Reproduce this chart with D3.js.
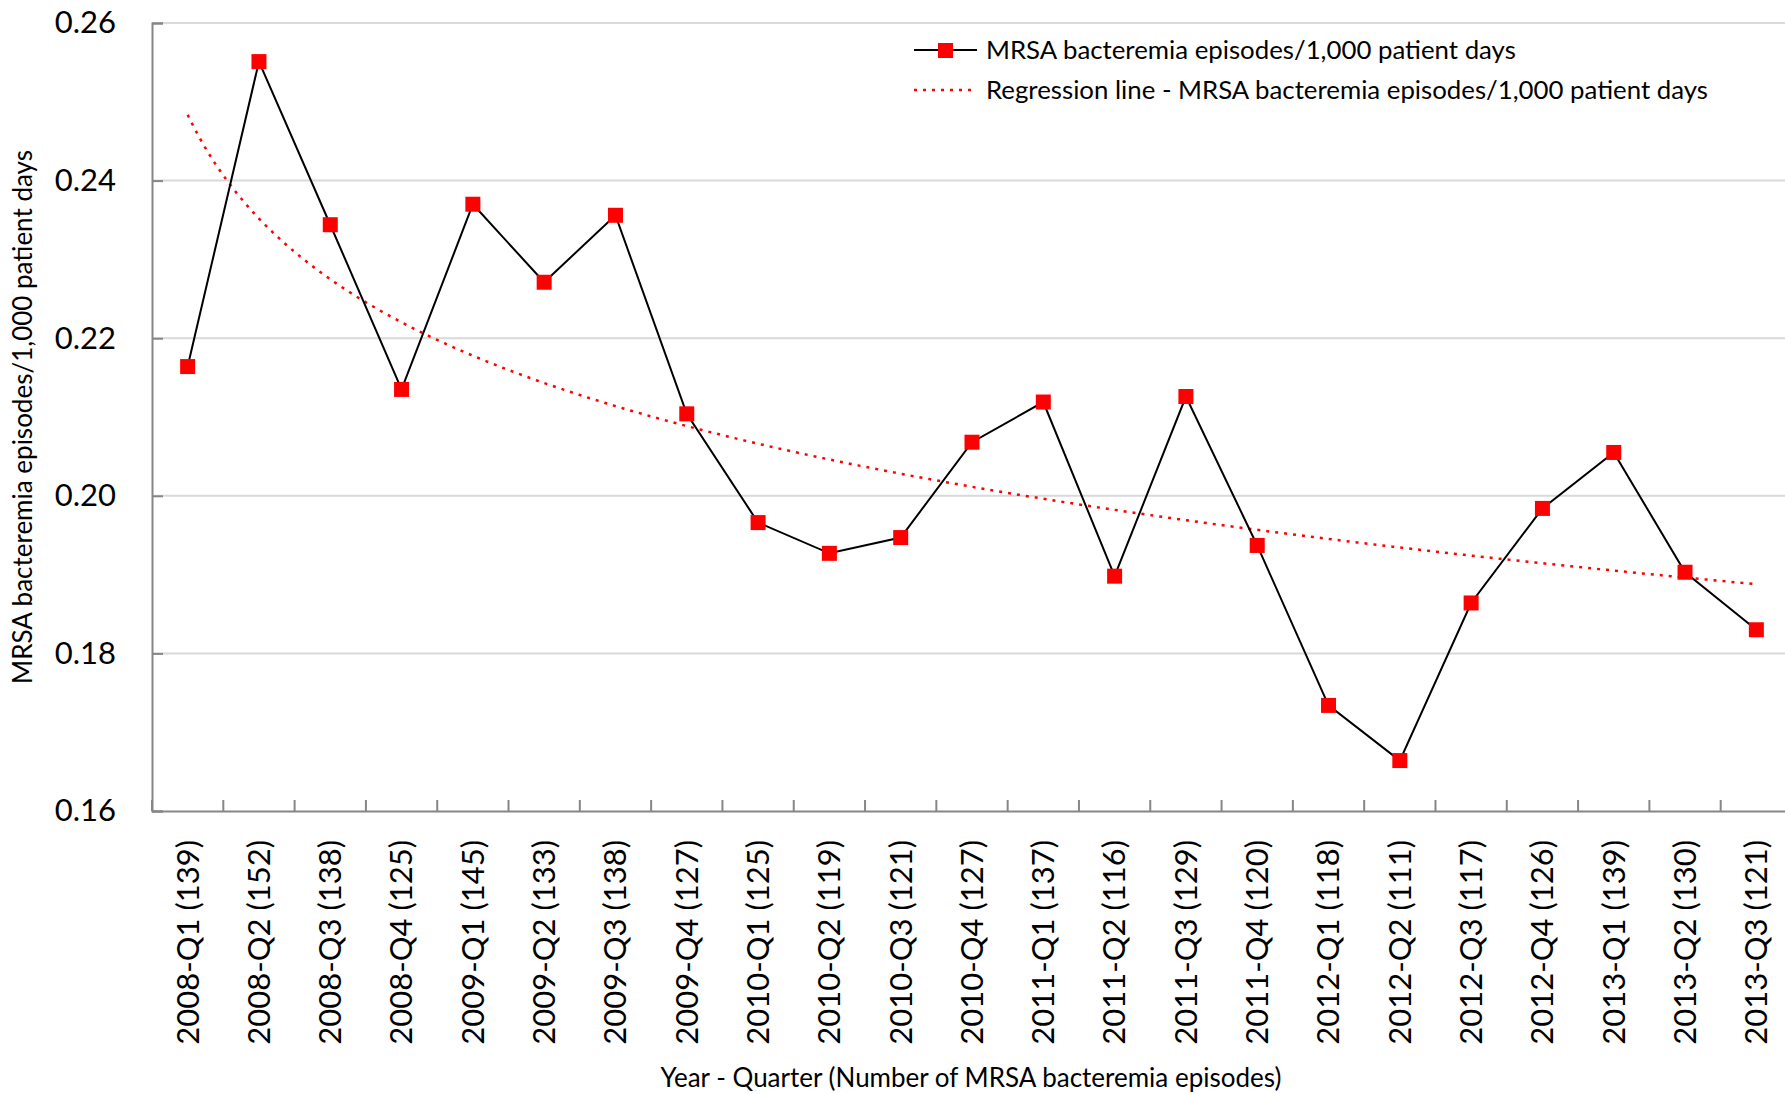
<!DOCTYPE html>
<html>
<head>
<meta charset="utf-8">
<script src="https://cdn.jsdelivr.net/npm/d3@7"></script>
<style>
  html, body { margin: 0; padding: 0; background: #fff; }
  svg { display: block; font-family: Lato, "Open Sans", sans-serif; }
</style>
</head>
<body>
<div id="root"></div>
<script>
// quarter labels with number of episodes
const quarters = ['2008-Q1', '2008-Q2', '2008-Q3', '2008-Q4', '2009-Q1', '2009-Q2', '2009-Q3', '2009-Q4',
  '2010-Q1', '2010-Q2', '2010-Q3', '2010-Q4', '2011-Q1', '2011-Q2', '2011-Q3', '2011-Q4',
  '2012-Q1', '2012-Q2', '2012-Q3', '2012-Q4', '2013-Q1', '2013-Q2', '2013-Q3'];
const episodes = [139, 152, 138, 125, 145, 133, 138, 127, 125, 119, 121, 127, 137, 116, 129, 120,
  118, 111, 117, 126, 139, 130, 121];
// episodes per 1,000 patient days
const rates = [0.2164, 0.2551, 0.2344, 0.2135, 0.2370, 0.2271, 0.2356, 0.2104, 0.1966, 0.1927, 0.1947, 0.2068,
  0.2119, 0.1898, 0.2126, 0.1937, 0.1734, 0.1664, 0.1864, 0.1984, 0.2055, 0.1903, 0.1830];
const yTicks = [0.16, 0.18, 0.20, 0.22, 0.24, 0.26];

const labels = quarters.map((q, i) => `${q} (${episodes[i]})`);

const W = 1785;
const H = 1094;
const plotLeft = 152;
const plotTop = 23;
const plotBottom = 811;
const plotRight = 1792; // plot runs off the right edge like the original

const svg = d3.select('#root').append('svg')
  .attr('width', W)
  .attr('height', H);

const x = d3.scaleBand().domain(labels).range([plotLeft, plotRight]);
const y = d3.scaleLinear().domain([0.16, 0.26]).range([plotBottom, plotTop]);
const cx = i => x(labels[i]) + x.bandwidth() / 2;

// gridlines
svg.append('g')
  .selectAll('line')
  .data(yTicks.slice(1))
  .enter()
  .append('line')
  .attr('x1', plotLeft)
  .attr('x2', W)
  .attr('y1', d => y(d))
  .attr('y2', d => y(d))
  .attr('stroke', '#d9d9d9')
  .attr('stroke-width', 2);

// y axis
const yAxis = svg.append('g')
  .attr('transform', `translate(${plotLeft},0)`)
  .call(d3.axisRight(y).tickValues(yTicks).tickSize(11).tickFormat(d3.format('.2f')))
  .attr('font-family', null);
yAxis.select('.domain').attr('stroke', '#868686').attr('stroke-width', 2);
yAxis.selectAll('.tick line').attr('stroke', '#868686').attr('stroke-width', 2);
yAxis.selectAll('.tick text')
  .attr('x', -36)
  .attr('text-anchor', 'end')
  .attr('font-size', 31)
  .attr('fill', '#000');

// x axis with boundary ticks
const xAxis = svg.append('g')
  .attr('transform', `translate(0,${plotBottom})`)
  .call(d3.axisBottom(x).tickSize(0))
  .attr('font-family', null);
xAxis.select('.domain').attr('stroke', '#868686').attr('stroke-width', 2);
xAxis.selectAll('.tick text')
  .attr('transform', 'rotate(-90)')
  .attr('x', -29)
  .attr('y', 0)
  .attr('dy', '0.35em')
  .attr('text-anchor', 'end')
  .attr('font-size', 31)
  .attr('fill', '#000');

const bounds = labels.map(l => x(l)).concat([plotRight]);
svg.append('g')
  .selectAll('line')
  .data(bounds)
  .enter()
  .append('line')
  .attr('x1', d => d)
  .attr('x2', d => d)
  .attr('y1', plotBottom)
  .attr('y2', plotBottom - 11)
  .attr('stroke', '#868686')
  .attr('stroke-width', 2);

// logarithmic trend fitted to the rates (least squares on ln(i))
const lx = rates.map((v, i) => Math.log(i + 1));
const mx = d3.mean(lx);
const my = d3.mean(rates);
const b = d3.sum(lx, (v, i) => (v - mx) * (rates[i] - my)) / d3.sum(lx, v => (v - mx) * (v - mx));
const a = my - b * mx;
const trend = d3.range(0, rates.length - 1 + 0.001, 0.1).map(t => [t, a + b * Math.log(t + 1)]);
const step = x.step();
const tx = t => cx(0) + t * step;

svg.append('path')
  .datum(trend)
  .attr('fill', 'none')
  .attr('stroke', '#ff0000')
  .attr('stroke-width', 2.5)
  .attr('stroke-dasharray', '3,6')
  .attr('d', d3.line().x(d => tx(d[0])).y(d => y(d[1])));

// observed series
svg.append('path')
  .datum(rates)
  .attr('fill', 'none')
  .attr('stroke', '#000')
  .attr('stroke-width', 2)
  .attr('d', d3.line().x((d, i) => cx(i)).y(d => y(d)));

svg.append('g')
  .selectAll('rect')
  .data(rates)
  .enter()
  .append('rect')
  .attr('x', (d, i) => cx(i) - 7.5)
  .attr('y', d => y(d) - 7.5)
  .attr('width', 15)
  .attr('height', 15)
  .attr('fill', '#ff0000');

// axis titles
svg.append('text')
  .attr('transform', `translate(32,${(plotTop + plotBottom) / 2}) rotate(-90)`)
  .attr('text-anchor', 'middle')
  .attr('font-size', 26)
  .text('MRSA bacteremia episodes/1,000 patient days');

svg.append('text')
  .attr('x', 971)
  .attr('y', 1087)
  .attr('text-anchor', 'middle')
  .attr('font-size', 26)
  .text('Year - Quarter (Number of MRSA bacteremia episodes)');

// legend
const legend = svg.append('g');
legend.append('line')
  .attr('x1', 914).attr('x2', 977)
  .attr('y1', 50).attr('y2', 50)
  .attr('stroke', '#000').attr('stroke-width', 2);
legend.append('rect')
  .attr('x', 938).attr('y', 43)
  .attr('width', 15).attr('height', 15)
  .attr('fill', '#ff0000');
legend.append('line')
  .attr('x1', 914).attr('x2', 977)
  .attr('y1', 90).attr('y2', 90)
  .attr('stroke', '#ff0000').attr('stroke-width', 2.5)
  .attr('stroke-dasharray', '3,6');
legend.append('text')
  .attr('x', 986).attr('y', 50).attr('dy', '0.35em')
  .attr('font-size', 25.8)
  .text('MRSA bacteremia episodes/1,000 patient days');
legend.append('text')
  .attr('x', 986).attr('y', 90).attr('dy', '0.35em')
  .attr('font-size', 25.8)
  .text('Regression line - MRSA bacteremia episodes/1,000 patient days');
</script>
</body>
</html>
